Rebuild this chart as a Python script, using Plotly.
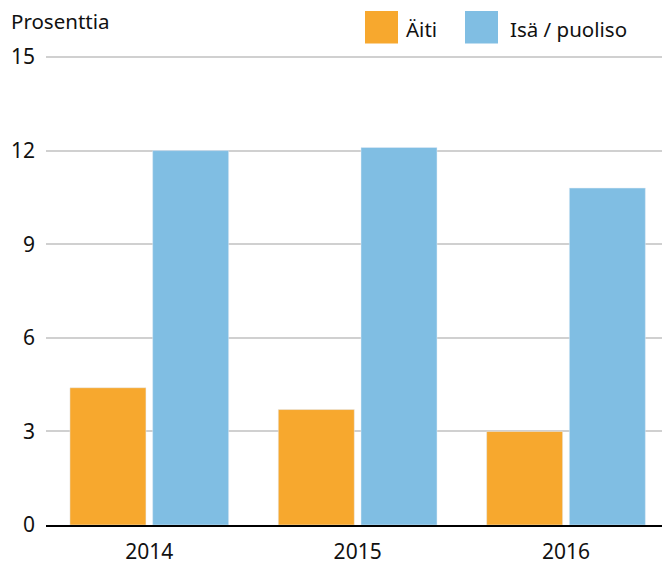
import plotly.graph_objects as go

years = ["2014", "2015", "2016"]
aiti = [4.4, 3.7, 3.0]
isa = [12.0, 12.1, 10.8]
series_names = ["Äiti", "Isä / puoliso"]
y_ticks = [0, 3, 6, 9, 12, 15]
y_title = "Prosenttia"

ORANGE = "#F7A82E"
BLUE = "#80BEE3"
FONT = "Noto Sans"
TEXT = "#111111"

W, H = 662, 565
L, R, T, B = 46, 0, 48, 40
pw, ph = W - L - R, H - T - B
PX_PER_UNIT = 31.2
y_top = ph / PX_PER_UNIT


def px_x(p):
    return (p - L) / pw


def px_y(p):
    return (H - B - p) / ph


fig = go.Figure()
fig.add_trace(go.Bar(x=years, y=aiti, name=series_names[0], marker_color=ORANGE, showlegend=False))
fig.add_trace(go.Bar(x=years, y=isa, name=series_names[1], marker_color=BLUE, showlegend=False))

# legend drawn manually with large swatches
shapes = [
    dict(type="rect", xref="paper", yref="paper", x0=px_x(365), x1=px_x(398), y0=px_y(43.5), y1=px_y(11),
         fillcolor=ORANGE, line_width=0),
    dict(type="rect", xref="paper", yref="paper", x0=px_x(465), x1=px_x(498), y0=px_y(43.5), y1=px_y(11),
         fillcolor=BLUE, line_width=0),
]
annotations = [
    dict(text=series_names[0], xref="paper", yref="paper", x=px_x(404), y=px_y(29), xanchor="left",
         yanchor="middle", showarrow=False, font=dict(size=20.5, color=TEXT, family=FONT)),
    dict(text=series_names[1], xref="paper", yref="paper", x=px_x(508), y=px_y(29), xanchor="left",
         yanchor="middle", showarrow=False, font=dict(size=20.5, color=TEXT, family=FONT)),
    dict(text=y_title, xref="paper", yref="paper", x=px_x(9), y=px_y(21), xanchor="left",
         yanchor="middle", showarrow=False, font=dict(size=20.5, color=TEXT, family=FONT)),
]

fig.update_layout(
    width=W, height=H,
    margin=dict(l=L, r=R, t=T, b=B, autoexpand=False),
    paper_bgcolor="white", plot_bgcolor="white",
    barmode="group", bargap=0.206, bargroupgap=0.081,
    font=dict(family=FONT, size=21, color=TEXT),
    shapes=shapes, annotations=annotations,
    showlegend=False,
)
fig.update_xaxes(
    type="category", range=[-0.4958, 2.4608], automargin=False,
    showgrid=False, showline=True, linecolor="black", linewidth=2,
    ticks="", ticklabelstandoff=7, tickfont=dict(size=21),
)
fig.update_yaxes(
    range=[0, y_top], tickvals=y_ticks, automargin=False,
    showgrid=True, gridcolor="#D0D0D0", gridwidth=1.5,
    zeroline=False, ticks="", ticklabelstandoff=10, tickfont=dict(size=21),
)

fig.write_html("out.html", config={"displayModeBar": False},
               post_script="document.body.style.margin='0';")
